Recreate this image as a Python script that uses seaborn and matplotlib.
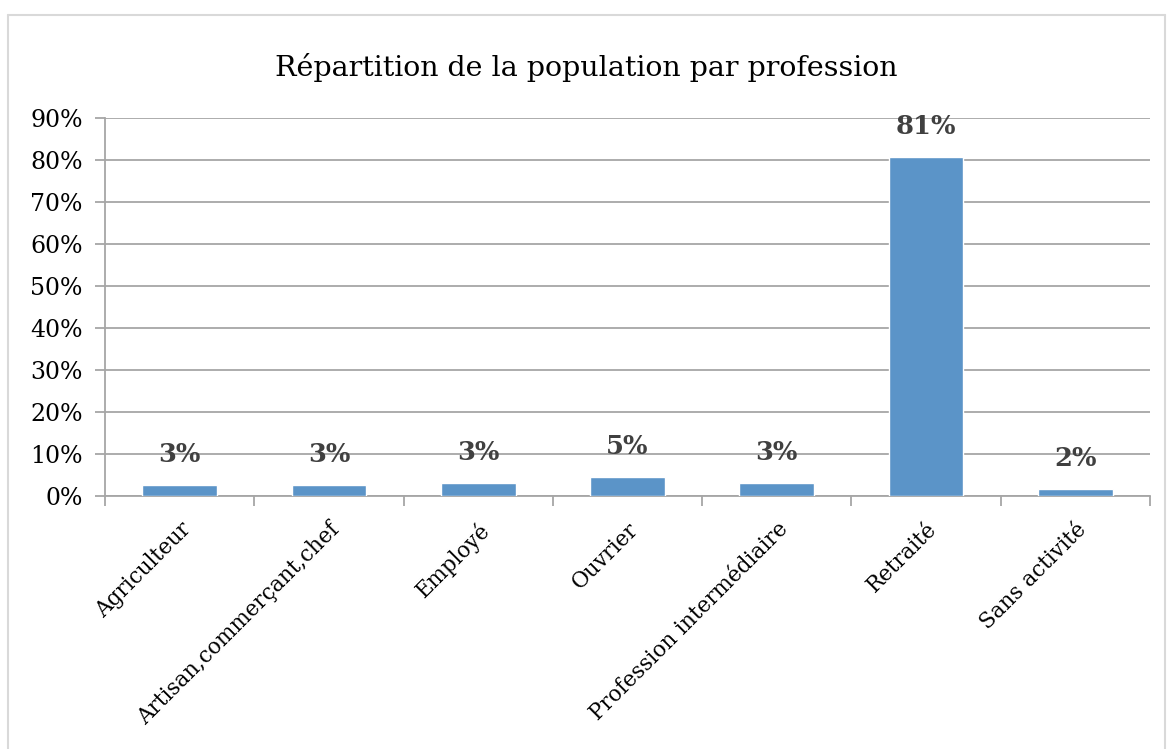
import matplotlib
matplotlib.use("Agg")
import matplotlib.pyplot as plt
import seaborn as sns
import pandas as pd
from matplotlib.ticker import FixedLocator, PercentFormatter
from matplotlib.lines import Line2D

# Data (percent of population)
professions = ["Agriculteur", "Artisan,commerçant,chef", "Employé", "Ouvrier",
               "Profession intermédiaire", "Retraité", "Sans activité"]
shares = [2.6, 2.6, 3.1, 4.6, 3.1, 80.8, 1.6]
bar_labels = ["3%", "3%", "3%", "5%", "3%", "81%", "2%"]

df = pd.DataFrame({"Profession": professions, "Part": shares})

sns.set_theme(style="white")
plt.rcParams["font.family"] = ["DejaVu Serif", "DejaVu Sans"]

W, H = 1173, 749
fig = plt.figure(figsize=(W / 100, H / 100), dpi=100)
ax = fig.add_axes([105 / W, 1 - 496 / H, (1150 - 105) / W, (496 - 118) / H])

sns.barplot(data=df, x="Profession", y="Part", color="#5b94c8", width=0.5,
            saturation=1, ax=ax, zorder=3)

ax.set_xlim(-0.5, len(professions) - 0.5)
ax.set_ylim(0, 90)
ax.set_yticks(range(0, 91, 10))
ax.yaxis.set_major_formatter(PercentFormatter(decimals=0))
ax.grid(axis="y", color="#a6a6a6", linewidth=1.3, zorder=0)
ax.set_xlabel("")
ax.set_ylabel("")

for side in ["top", "right"]:
    ax.spines[side].set_visible(False)
for side in ["left", "bottom"]:
    ax.spines[side].set_color("#a6a6a6")
    ax.spines[side].set_linewidth(1.3)

# ticks between categories
ax.xaxis.set_minor_locator(FixedLocator([i - 0.5 for i in range(len(professions) + 1)]))
ax.tick_params(axis="x", which="major", length=0, pad=16)
ax.tick_params(axis="x", which="minor", length=7, width=1.3, color="#a6a6a6", bottom=True)
ax.tick_params(axis="y", length=7, width=1.3, color="#a6a6a6", left=True,
               labelsize=17, pad=9)
plt.setp(ax.get_xticklabels(), rotation=45, ha="right", va="top",
         rotation_mode="anchor", fontsize=15.5, color="black")
plt.setp(ax.get_yticklabels(), color="black")

# data labels
for i, (v, lab) in enumerate(zip(shares, bar_labels)):
    ax.annotate(lab, (i, v), xytext=(0, 22), textcoords="offset points",
                ha="center", va="center", fontsize=18.5, fontweight="bold",
                color="#404040", zorder=4)

fig.text(0.5, 1 - 68 / H, "Répartition de la population par profession",
         ha="center", va="center", fontsize=20.5, color="black")

# light chart frame
for xs, ys in [([8, 8], [0, H - 15]), ([8, 1165], [H - 15, H - 15]), ([1165, 1165], [0, H - 15])]:
    fig.add_artist(Line2D([x / W for x in xs], [y / H for y in ys],
                          color="#d9d9d9", linewidth=1.5))

fig.savefig("out.png", dpi=100)
